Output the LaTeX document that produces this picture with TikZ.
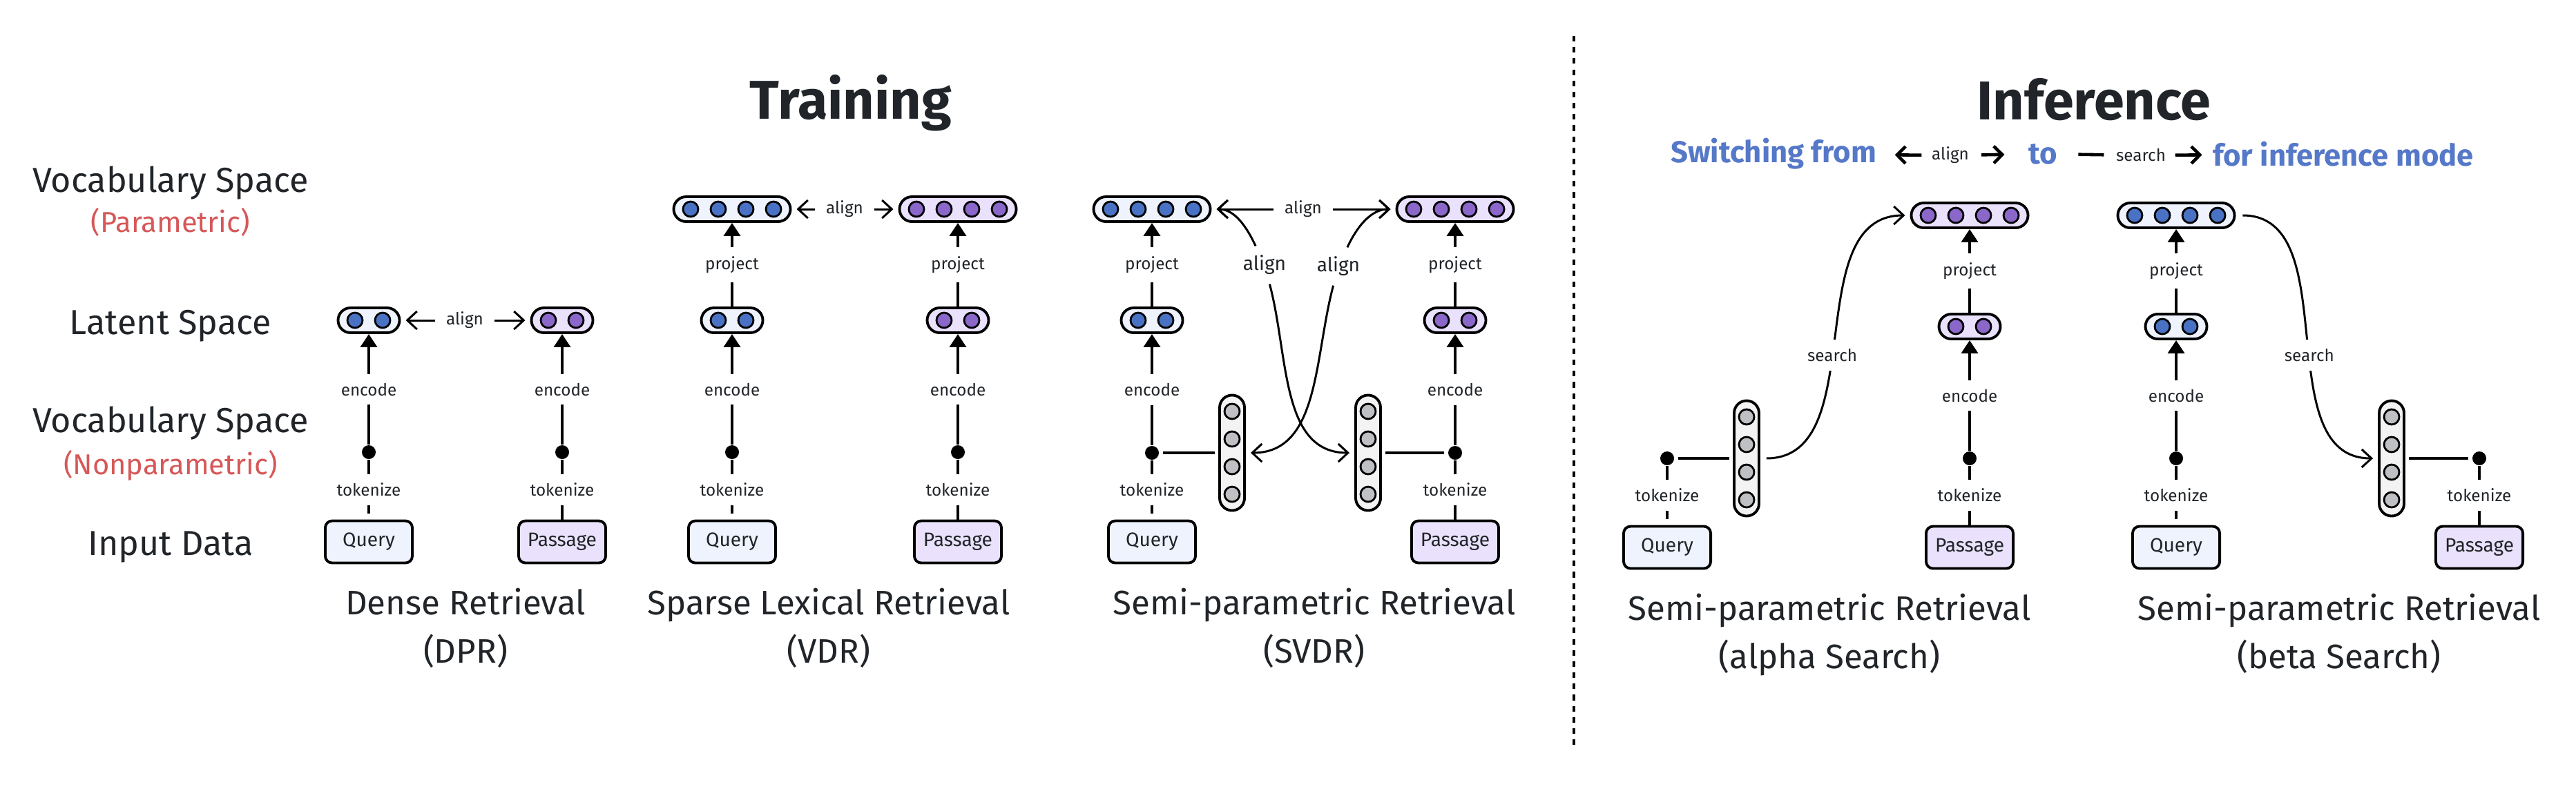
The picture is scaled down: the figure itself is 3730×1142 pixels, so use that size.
\documentclass[tikz,border=0pt]{standalone}
\usepackage{fontspec}
\setmainfont{Fira Sans}
\usepackage{tikz}
\usetikzlibrary{arrows.meta}
\definecolor{textdark}{RGB}{33,37,41}
\definecolor{sidered}{RGB}{214,88,88}
\definecolor{hdblue}{RGB}{85,120,200}
\definecolor{bluedot}{RGB}{74,114,196}
\definecolor{bluefill}{RGB}{238,243,253}
\definecolor{purpledot}{RGB}{138,103,201}
\definecolor{purplefill}{RGB}{234,226,252}
\definecolor{graydot}{RGB}{190,192,195}
\definecolor{grayfill}{RGB}{243,243,243}
\tikzset{
  caps/.style={draw, line width=1.1pt, rounded corners=0.18cm, minimum height=0.36cm, inner sep=0pt},
  dotc/.style={circle, draw, line width=0.8pt, minimum size=0.22cm, inner sep=0pt},
  tokdot/.style={circle, fill=black, minimum size=0.2cm, inner sep=0pt},
  qbox/.style={draw, line width=1.1pt, rounded corners=0.1cm, minimum width=1.26cm, minimum height=0.61cm,
    fill=bluefill, text=textdark, font=\fontsize{8}{10}\selectfont},
  pbox/.style={qbox, fill=purplefill},
  lbl/.style={fill=white, inner xsep=0.15cm, inner ysep=0.13cm, text=textdark, font=\fontsize{6.9}{8}\selectfont},
  midlbl/.style={lbl, font=\fontsize{8}{9.6}\selectfont},
  conn/.style={line width=1.1pt},
  uparr/.style={line width=1.1pt, -{Triangle[length=5.4pt,width=6.8pt]}},
  alarr/.style={line width=0.85pt, -{Straight Barb[length=4pt,width=7.4pt]}, shorten >=2pt},
  hdarr/.style={line width=1.3pt, -{Straight Barb[length=3.5pt,width=7pt]}},
  side/.style={anchor=base, text=textdark, font=\fontsize{14.3}{17}\selectfont},
  sidenote/.style={anchor=base, text=sidered, font=\fontsize{11.85}{14}\selectfont},
  ttl/.style={anchor=base, text=textdark, align=center, font=\fontsize{14}{19.9}\selectfont},
  hd/.style={anchor=base, text=textdark, font=\bfseries\fontsize{22.5}{26}\selectfont},
  subhd/.style={inner sep=0pt, text=hdblue, font=\bfseries\fontsize{12.4}{14}\selectfont},
  subsm/.style={inner sep=0pt, text=textdark, font=\fontsize{6.9}{8}\selectfont}
}
% horizontal vector: name, position, dots, dot colour, fill
\newcommand{\hcaps}[5]{%
  \node[caps, fill=#5, minimum width={#3*0.4cm+0.09cm}] (#1) at (#2) {};
  \foreach \k in {1,...,#3}
    \node[dotc, fill=#4] at ([xshift={(\k-(#3+1)/2)*0.4cm}]#1.center) {};
}
% vertical vector: name, position
\newcommand{\vcaps}[2]{%
  \node[caps, fill=grayfill, minimum width=0.36cm, minimum height=1.67cm] (#1) at (#2) {};
  \foreach \k in {1,...,4}
    \node[dotc, fill=graydot] at ([yshift={(2.5-\k)*0.4cm}]#1.center) {};
}

\begin{document}
\begin{tikzpicture}[x=0.01cm, y=-0.01cm]
            \useasboundingbox (0,0) rectangle (3730,1142);

            % Headers
            \node[hd] (trn) at (1232,172) {Training};
            \node[hd] (inf) at (3032,173) {Inference};
            \node[subhd] (ssw) at (2568,223) {Switching from};
            \node[subsm] (sal) at (2824,225) {align};
            \node[subhd] (sto) at (2958,223) {to};
            \node[subsm] (sse) at (3100,225) {search};
            \node[subhd] (sfi) at (3393,223) {for inference mode};
            \draw[hdarr, shorten <=4pt, shorten >=7.4pt] (sal) -- (ssw);
            \draw[hdarr, shorten <=5pt, shorten >=9.7pt] (sal) -- (sto);
            \draw[line width=1.3pt, shorten <=8.5pt, shorten >=4.8pt] (sto) -- (sse);
            \draw[hdarr, shorten <=3.7pt, shorten >=4.3pt] (sse) -- (sfi);

            % Divider
            \draw[line width=0.9pt, dash pattern=on 2.3pt off 2.3pt] (2279,52) -- (2279,1080);

            % Row labels
            \node[side] (r1) at (247,278) {Vocabulary Space};
            \node[sidenote] (r1n) at (247,336) {(Parametric)};
            \node[side] (r2) at (247,484) {Latent Space};
            \node[side] (r3) at (247,626) {Vocabulary Space};
            \node[sidenote] (r3n) at (247,687) {(Nonparametric)};
            \node[side] (r4) at (247,804) {Input Data};

            % Dense retrieval
            \node[qbox] (q1) at (534,785) {Query};
            \node[pbox] (p1) at (814,785) {Passage};
            \node[tokdot] (qd1) at (534,655) {};
            \node[tokdot] (pd1) at (814,655) {};
            \hcaps{ql1}{534,464}{2}{bluedot}{bluefill}
            \hcaps{pl1}{814,464}{2}{purpledot}{purplefill}
            \draw[conn, shorten <=2.5pt] (q1) -- node[lbl]{tokenize} (qd1);
            \draw[conn] (p1) -- node[lbl]{tokenize} (pd1);
            \draw[uparr] (qd1) -- node[lbl]{encode} (ql1);
            \draw[uparr] (pd1) -- node[lbl]{encode} (pl1);
            \node[lbl] (a1) at (673,464) {align};
            \draw[alarr] (a1) -- (ql1);
            \draw[alarr] (a1) -- (pl1);
            \node[ttl] (t1) at (674,960) {Dense Retrieval\\(DPR)};

            % Sparse lexical retrieval
            \node[qbox] (q2) at (1060,785) {Query};
            \node[pbox] (p2) at (1387,785) {Passage};
            \node[tokdot] (qd2) at (1060,655) {};
            \node[tokdot] (pd2) at (1387,655) {};
            \hcaps{ql2}{1060,464}{2}{bluedot}{bluefill}
            \hcaps{pl2}{1387,464}{2}{purpledot}{purplefill}
            \hcaps{qt2}{1060,303}{4}{bluedot}{bluefill}
            \hcaps{pt2}{1387,303}{4}{purpledot}{purplefill}
            \draw[conn, shorten <=2.5pt] (q2) -- node[lbl]{tokenize} (qd2);
            \draw[conn] (p2) -- node[lbl]{tokenize} (pd2);
            \draw[uparr] (qd2) -- node[lbl]{encode} (ql2);
            \draw[uparr] (pd2) -- node[lbl]{encode} (pl2);
            \draw[uparr] (ql2) -- node[lbl]{project} (qt2);
            \draw[uparr] (pl2) -- node[lbl]{project} (pt2);
            \node[lbl] (a2) at (1223,303) {align};
            \draw[alarr] (a2) -- (qt2);
            \draw[alarr] (a2) -- (pt2);
            \node[ttl] (t2) at (1200,960) {Sparse Lexical Retrieval\\(VDR)};

            % Semi-parametric retrieval
            \node[qbox] (q3) at (1668,785) {Query};
            \node[pbox] (p3) at (2107,785) {Passage};
            \node[tokdot] (qd3) at (1668,656) {};
            \node[tokdot] (pd3) at (2107,656) {};
            \hcaps{ql3}{1668,464}{2}{bluedot}{bluefill}
            \hcaps{pl3}{2107,464}{2}{purpledot}{purplefill}
            \hcaps{qt3}{1668,303}{4}{bluedot}{bluefill}
            \hcaps{pt3}{2107,303}{4}{purpledot}{purplefill}
            \vcaps{qv3}{1784,656}
            \vcaps{pv3}{1981,656}
            \draw[conn, shorten <=2.5pt] (q3) -- node[lbl]{tokenize} (qd3);
            \draw[conn] (p3) -- node[lbl]{tokenize} (pd3);
            \draw[uparr] (qd3) -- node[lbl]{encode} (ql3);
            \draw[uparr] (pd3) -- node[lbl]{encode} (pl3);
            \draw[uparr] (ql3) -- node[lbl]{project} (qt3);
            \draw[uparr] (pl3) -- node[lbl]{project} (pt3);
            \draw[conn, shorten <=1.5pt, shorten >=1.5pt] (qd3) -- (qv3);
            \draw[conn, shorten <=1.5pt, shorten >=1.5pt] (pd3) -- (pv3);
            \node[lbl] (a3) at (1887,303) {align};
            \draw[alarr] (a3) -- (qt3);
            \draw[alarr] (a3) -- (pt3);
            \node[midlbl] (ma3) at (1831,384) {align};
            \node[midlbl] (mb3) at (1938,386) {align};
            \draw[alarr] (ma3) to[out=115,in=0] (qt3);
            \draw[alarr] (ma3) to[out=-75,in=180] (pv3);
            \draw[alarr] (mb3) to[out=65,in=180] (pt3);
            \draw[alarr] (mb3) to[out=-105,in=0] (qv3);
            \node[ttl] (t3) at (1903,960) {Semi-parametric Retrieval\\(SVDR)};

            % Alpha search
            \node[qbox] (q4) at (2414,793) {Query};
            \node[pbox] (p4) at (2852,793) {Passage};
            \node[tokdot] (qd4) at (2414,664) {};
            \node[tokdot] (pd4) at (2852,664) {};
            \vcaps{qv4}{2529,664}
            \hcaps{pl4}{2852,473}{2}{purpledot}{purplefill}
            \hcaps{pt4}{2852,312}{4}{purpledot}{purplefill}
            \draw[conn, shorten <=2.5pt] (q4) -- node[lbl]{tokenize} (qd4);
            \draw[conn] (p4) -- node[lbl]{tokenize} (pd4);
            \draw[uparr] (pd4) -- node[lbl]{encode} (pl4);
            \draw[uparr] (pl4) -- node[lbl]{project} (pt4);
            \draw[conn, shorten <=1.5pt, shorten >=1.5pt] (qd4) -- (qv4);
            \draw[alarr, shorten <=2.5pt] (qv4) to[out=0,in=180] node[lbl,pos=0.45]{search} (pt4);
            \node[ttl] (t4) at (2649,968) {Semi-parametric Retrieval\\(alpha Search)};

            % Beta search
            \node[qbox] (q5) at (3151,793) {Query};
            \node[pbox] (p5) at (3590,793) {Passage};
            \node[tokdot] (qd5) at (3151,664) {};
            \node[tokdot] (pd5) at (3590,664) {};
            \hcaps{ql5}{3151,473}{2}{bluedot}{bluefill}
            \hcaps{qt5}{3151,312}{4}{bluedot}{bluefill}
            \vcaps{pv5}{3463,664}
            \draw[conn, shorten <=2.5pt] (q5) -- node[lbl]{tokenize} (qd5);
            \draw[conn] (p5) -- node[lbl]{tokenize} (pd5);
            \draw[uparr] (qd5) -- node[lbl]{encode} (ql5);
            \draw[uparr] (ql5) -- node[lbl]{project} (qt5);
            \draw[conn, shorten <=1.5pt, shorten >=1.5pt] (pd5) -- (pv5);
            \draw[alarr, shorten <=2.8pt] (qt5) to[out=0,in=180] node[lbl,pos=0.55]{search} (pv5);
            \node[ttl] (t5) at (3387,968) {Semi-parametric Retrieval\\(beta Search)};
        \end{tikzpicture}
\end{document}
